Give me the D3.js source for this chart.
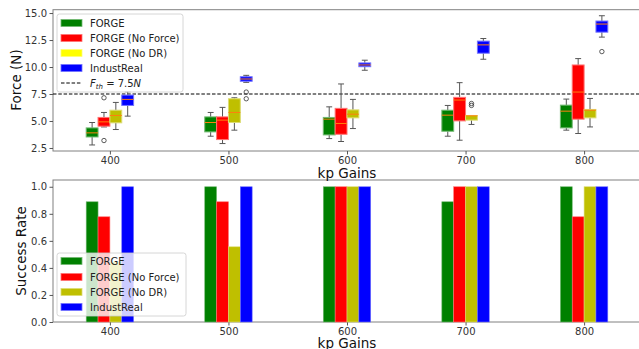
<!DOCTYPE html>
<html>
<head>
<meta charset="utf-8">
<script src="https://cdn.jsdelivr.net/npm/d3@7"></script>
<style>
body { margin: 0; background: #fff; }
text { font-family: "DejaVu Sans", sans-serif; }
</style>
</head>
<body>
<svg width="639" height="349"></svg>
<script>
// kp gains on the x axis
var kpGains = [400, 500, 600, 700, 800];
var methods = ["FORGE", "FORGE (No Force)", "FORGE (No DR)", "IndustReal"];
var colors = ["#008000", "#ff0000", "#bfbf00", "#0000ff"];
var legendColors = ["#008000", "#ff0000", "#ffff00", "#0000ff"];

// box stats per kp: [whiskerLow, q1, median, q3, whiskerHigh]
var forgeBox = [[2.78,3.52,3.9,4.36,4.86],[3.59,3.99,4.86,5.38,5.79],[3.37,3.71,5.17,5.33,6.31],[3.59,4.05,5.54,6.0,6.44],[4.15,4.36,5.91,6.47,7.03]];
var noForceBox = [[4.45,4.52,4.92,5.33,5.79],[2.91,3.28,5.08,5.38,6.26],[3.1,3.77,4.77,6.17,8.43],[3.22,5.01,6.94,7.19,8.55],[3.84,5.17,7.68,10.19,10.78]];
var noDrBox = [[4.21,4.83,5.51,6.0,6.72],[4.15,4.86,5.79,7.06,7.15],[4.3,5.29,5.63,6.03,7.0],[4.68,5.08,5.48,5.51,5.51],[4.45,5.29,6.0,6.07,7.09]];
var industBox = [[5.45,6.44,7.0,7.4,7.71],[8.58,8.68,8.89,9.1,9.23],[9.7,10.03,10.19,10.38,10.63],[10.72,11.28,12.05,12.4,12.64],[12.77,13.23,13.98,14.26,14.75]];
// outliers: [methodIndex, kp, value]
var fliers = [[1,400,7.15],[1,400,3.19],[3,500,7.68],[3,500,7.06],[2,700,6.62],[2,700,6.44],[3,800,11.43]];
var forceThreshold = 7.5;
var forceTicks = [2.5, 5.0, 7.5, 10.0, 12.5, 15.0];

// success rates per kp
var forgeSR = [0.889, 1, 1, 0.889, 1];
var noForceSR = [0.778, 0.889, 1, 1, 0.778];
var noDrSR = [0.444, 0.556, 1, 1, 1];
var industSR = [1, 1, 1, 1, 1];
var srTicks = [0, 0.2, 0.4, 0.6, 0.8, 1.0];

var boxes = [forgeBox, noForceBox, noDrBox, industBox];
var rates = [forgeSR, noForceSR, noDrSR, industSR];

var svg = d3.select("svg");
var left = 53, right = 641;
var boxW = 10; // in kp units

var x = d3.scaleLinear().domain([352, 848]).range([left, right]);
var yTop = d3.scaleLinear().domain([2.22, 15.31]).range([151, 9.7]);
var yBot = d3.scaleLinear().domain([0, 1.05]).range([322, 180]);

function lighter(c) { return d3.interpolateRgb(c, "#fff")(0.45); }

function frame(g, y, y0, y1, ticks, fmt) {
  g.append("rect").attr("x", left).attr("y", y0).attr("width", right - left).attr("height", y1 - y0)
    .attr("fill", "none").attr("stroke", "#808080").attr("stroke-width", 1);
  var ya = g.append("g").attr("transform", "translate(" + left + ",0)")
    .call(d3.axisLeft(y).tickValues(ticks).tickFormat(fmt).tickSize(3.5).tickPadding(2.5));
  var xa = g.append("g").attr("transform", "translate(0," + y1 + ")")
    .call(d3.axisBottom(x).tickValues(kpGains).tickFormat(d3.format("d")).tickSize(3.5).tickPadding(2.5));
  [ya, xa].forEach(function(a) {
    a.select(".domain").remove();
    a.selectAll("line").attr("stroke", "#555");
    a.selectAll("text").attr("font-size", 10).attr("fill", "#333").attr("font-family", "DejaVu Sans");
  });
}

// ---- top panel: force box plots
var topG = svg.append("g");
frame(topG, yTop, 9.7, 151, forceTicks, d3.format(".1f"));

topG.append("line").attr("x1", left).attr("x2", right)
  .attr("y1", yTop(forceThreshold)).attr("y2", yTop(forceThreshold))
  .attr("stroke", "#000").attr("stroke-width", 1).attr("stroke-dasharray", "3.5,1.8");

boxes.forEach(function(series, m) {
  var g = topG.append("g");
  series.forEach(function(s, k) {
    var cx = kpGains[k] + (m - 1.5) * boxW;
    var x0 = x(cx - boxW / 2), x1 = x(cx + boxW / 2), xc = x(cx);
    var capL = x(cx - boxW / 4), capR = x(cx + boxW / 4);
    var wc = "#555";
    g.append("line").attr("x1", xc).attr("x2", xc).attr("y1", yTop(s[0])).attr("y2", yTop(s[1])).attr("stroke", wc);
    g.append("line").attr("x1", xc).attr("x2", xc).attr("y1", yTop(s[3])).attr("y2", yTop(s[4])).attr("stroke", wc);
    g.append("line").attr("x1", capL).attr("x2", capR).attr("y1", yTop(s[0])).attr("y2", yTop(s[0])).attr("stroke", wc);
    g.append("line").attr("x1", capL).attr("x2", capR).attr("y1", yTop(s[4])).attr("y2", yTop(s[4])).attr("stroke", wc);
    g.append("rect").attr("x", x0).attr("y", yTop(s[3])).attr("width", x1 - x0)
      .attr("height", Math.max(0.5, yTop(s[1]) - yTop(s[3])))
      .attr("fill", colors[m]).attr("stroke", lighter(colors[m])).attr("stroke-width", 1);
    g.append("line").attr("x1", x0).attr("x2", x1).attr("y1", yTop(s[2])).attr("y2", yTop(s[2]))
      .attr("stroke", "#ff7f0e").attr("stroke-width", 1);
  });
});

topG.selectAll(".flier").data(fliers).enter().append("circle")
  .attr("class", "flier")
  .attr("cx", function(d) { return x(d[1] + (d[0] - 1.5) * boxW); })
  .attr("cy", function(d) { return yTop(d[2]); })
  .attr("r", 2.2).attr("fill", "none").attr("stroke", "#333").attr("stroke-width", 0.8);

// ---- bottom panel: success rate bars
var botG = svg.append("g");
frame(botG, yBot, 180, 322, srTicks, d3.format(".1f"));

rates.forEach(function(series, m) {
  botG.append("g").selectAll("rect").data(series).enter().append("rect")
    .attr("x", function(d, k) { return x(kpGains[k] + (m - 2) * boxW); })
    .attr("width", x(boxW) - x(0))
    .attr("y", function(d) { return yBot(d); })
    .attr("height", function(d) { return yBot(0) - yBot(d); })
    .attr("fill", colors[m]).attr("stroke", lighter(colors[m])).attr("stroke-width", 0.6);
});

// ---- legends
function legendBox(g, x0, y0, w, h) {
  g.append("rect").attr("x", x0).attr("y", y0).attr("width", w).attr("height", h).attr("rx", 2.5)
    .attr("fill", "#fff").attr("fill-opacity", 0.8).attr("stroke", "#ccc").attr("stroke-width", 0.8);
}

var lt = svg.append("g");
legendBox(lt, 57, 14, 126, 78);
var topRows = [23, 38, 53, 68];
methods.forEach(function(name, i) {
  lt.append("rect").attr("x", 61).attr("y", topRows[i] - 3.5).attr("width", 21).attr("height", 7)
    .attr("fill", legendColors[i]).attr("stroke", lighter(legendColors[i])).attr("stroke-width", 0.8);
  lt.append("text").attr("x", 90).attr("y", topRows[i] + 3.6).attr("font-size", 10).attr("fill", "#222").text(name);
});
lt.append("line").attr("x1", 61).attr("x2", 82).attr("y1", 83).attr("y2", 83)
  .attr("stroke", "#000").attr("stroke-dasharray", "3.5,1.8");
var ft = lt.append("text").attr("x", 90).attr("y", 86.6).attr("font-size", 10).attr("fill", "#222");
ft.append("tspan").attr("font-style", "italic").text("F");
ft.append("tspan").attr("font-style", "italic").attr("font-size", 7).attr("dy", 2).text("th");
ft.append("tspan").attr("dy", -2).text(" = 7.5");
ft.append("tspan").attr("font-style", "italic").text("N");

var lb = svg.append("g");
legendBox(lb, 57, 253, 129, 63);
var botRows = [261, 277, 292, 307];
methods.forEach(function(name, i) {
  lb.append("rect").attr("x", 61).attr("y", botRows[i] - 3.5).attr("width", 21).attr("height", 7)
    .attr("fill", colors[i]).attr("stroke", lighter(colors[i])).attr("stroke-width", 0.8);
  lb.append("text").attr("x", 90).attr("y", botRows[i] + 3.6).attr("font-size", 10).attr("fill", "#222").text(name);
});

// ---- axis titles
svg.append("text").attr("x", 347).attr("y", 178).attr("text-anchor", "middle").attr("font-size", 13.5).attr("fill", "#111").text("kp Gains");
svg.append("text").attr("x", 347).attr("y", 348).attr("text-anchor", "middle").attr("font-size", 13.5).attr("fill", "#111").text("kp Gains");
svg.append("text").attr("transform", "translate(21,80) rotate(-90)").attr("text-anchor", "middle").attr("font-size", 13.5).attr("fill", "#111").text("Force (N)");
svg.append("text").attr("transform", "translate(26,251) rotate(-90)").attr("text-anchor", "middle").attr("font-size", 13.5).attr("fill", "#111").text("Success Rate");
</script>
</body>
</html>
